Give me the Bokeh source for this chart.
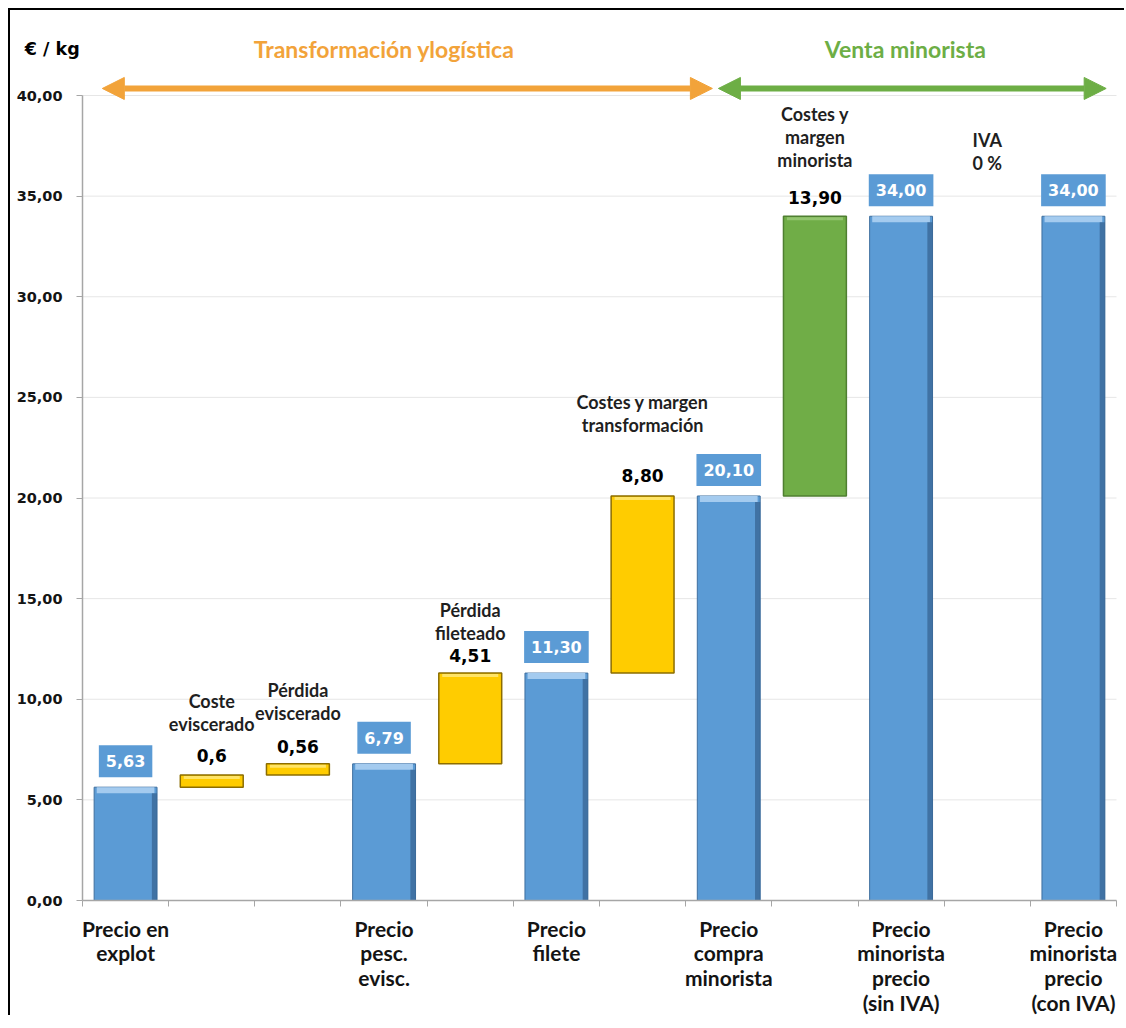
from bokeh.plotting import figure
from bokeh.models import Range1d, FixedTicker, Arrow, NormalHead
from bokeh.core.properties import value
from bokeh.embed import file_html
from bokeh.resources import INLINE

# ---------------- data ----------------
slot_labels = ["Precio en\nexplot", "", "", "Precio\npesc.\nevisc.", "", "Precio\nfilete", "",
               "Precio\ncompra\nminorista", "", "Precio\nminorista\nprecio\n(sin IVA)", "",
               "Precio\nminorista\nprecio\n(con IVA)"]
slot_kind = ["total", "step", "step", "total", "step", "total", "step", "total", "step", "total", "step", "total"]

total_values = [5.63, 6.79, 11.30, 20.10, 34.00, 34.00]
total_labels = ["5,63", "6,79", "11,30", "20,10", "34,00", "34,00"]

step_names = ["Coste\neviscerado", "Pérdida\neviscerado", "Pérdida\nfileteado",
              "Costes y margen\ntransformación", "Costes y\nmargen\nminorista", "IVA\n0 %"]
step_values = [0.60, 0.56, 4.51, 8.80, 13.90, 0.00]
step_labels = ["0,6", "0,56", "4,51", "8,80", "13,90", ""]
step_group = ["t", "t", "t", "t", "v", "v"]

y_ticks = [0, 5, 10, 15, 20, 25, 30, 35, 40]
y_tick_labels = ["0,00", "5,00", "10,00", "15,00", "20,00", "25,00", "30,00", "35,00", "40,00"]

title_left = "Transformación ylogística"
title_right = "Venta minorista"
unit_label = "€ / kg"

# ---------------- style ----------------
BLUE = "#5B9BD5"
BLUE_HI = "#A4CBEF"
BLUE_LINE = "#3F6F9F"
YELLOW = "#FFCC00"
YELLOW_HI = "#FFEA80"
YELLOW_LINE = "#8C6D00"
GREEN = "#70AD47"
GREEN_HI = "#9CCB7A"
GREEN_LINE = "#4F7F31"
ORANGE = "#F2A33A"
GREEN_T = "#6DAE45"
PX = 20.125           # pixels per unit on y
UX = 86.1667          # pixels per slot on x
HALF = 0.365          # half bar width
LEFT_PX, RIGHT_PX, TOP_PX, BOTTOM_PX = 72, 8, 890, 115
cat_offsets = [-40, -40, -29, -60, -45, -42]   # px, category text above bar top
val_offsets = [-20, -17, -18, -20, -19, -19]   # px, value text above bar top

# ---------------- geometry from data ----------------
xs = list(range(len(slot_labels)))
tot_x, tot_top = [], []
stp_x, stp_bot, stp_top = [], [], []
level = 0.0
ti = si = 0
for i, k in enumerate(slot_kind):
    if k == "total":
        level = total_values[ti]
        tot_x.append(i)
        tot_top.append(level)
        ti += 1
    else:
        stp_x.append(i)
        stp_bot.append(level)
        level = level + step_values[si]
        stp_top.append(level)
        si += 1

x0 = xs[0] - 0.5
x1 = xs[-1] + 0.5
fw = int(round((x1 - x0) * UX)) + LEFT_PX + RIGHT_PX
fh = TOP_PX + BOTTOM_PX
p = figure(frame_width=fw, frame_height=fh,
           x_range=Range1d(x0 - LEFT_PX / UX, x1 + RIGHT_PX / UX),
           y_range=Range1d(-BOTTOM_PX / PX, TOP_PX / PX),
           output_backend="svg", toolbar_location=None,
           min_border_left=0, min_border_right=0, min_border_top=0, min_border_bottom=0)
p.outline_line_color = None
p.background_fill_color = "white"
p.border_fill_color = "white"
p.margin = (8, 0, 0, 8)
p.styles = {"border-left": "2px solid #000000", "border-top": "2px solid #000000"}

# axes (placed at fixed data locations inside the frame)
p.yaxis.fixed_location = x0
p.yaxis.ticker = FixedTicker(ticks=y_ticks)
p.yaxis.major_label_overrides = {t: l for t, l in zip(y_ticks, y_tick_labels)}
p.yaxis.bounds = (0, 40)
p.yaxis.axis_line_color = "#A6A6A6"
p.yaxis.axis_line_width = 1.5
p.yaxis.major_tick_line_color = "#A6A6A6"
p.yaxis.major_tick_out = 6
p.yaxis.major_tick_in = 0
p.yaxis.minor_tick_line_color = None
p.yaxis.major_label_standoff = 14
p.yaxis.major_label_text_font = "DejaVu Sans"
p.yaxis.major_label_text_font_style = "bold"
p.yaxis.major_label_text_font_size = "14.5px"
p.yaxis.major_label_text_color = "#141414"

bounds_x = [x - 0.5 for x in xs] + [xs[-1] + 0.5]
p.xaxis.fixed_location = 0
p.xaxis.bounds = (x0, x1)
p.xaxis.ticker = FixedTicker(ticks=xs, minor_ticks=bounds_x)
p.xaxis.major_label_overrides = {x: l for x, l in zip(xs, slot_labels)}
p.xaxis.axis_line_color = "#A6A6A6"
p.xaxis.axis_line_width = 1.5
p.xaxis.major_tick_line_color = None
p.xaxis.major_tick_out = 0
p.xaxis.major_tick_in = 0
p.xaxis.minor_tick_line_color = "#A6A6A6"
p.xaxis.minor_tick_out = 6
p.xaxis.minor_tick_in = 0
p.xaxis.major_label_standoff = 9
p.xaxis.major_label_text_font = "Lato"
p.xaxis.major_label_text_font_style = "bold"
p.xaxis.major_label_text_font_size = "21px"
p.xaxis.major_label_text_line_height = 0.99
p.xaxis.major_label_text_color = "#141414"

p.xgrid.grid_line_color = None
p.ygrid.grid_line_color = None
p.segment(x0=[x0] * (len(y_ticks) - 1), x1=[x1] * (len(y_ticks) - 1),
          y0=y_ticks[1:], y1=y_ticks[1:], line_color="#E6E6E6", line_width=1, level="underlay")

# total bars (blue)
p.quad(left=[x - HALF for x in tot_x], right=[x + HALF for x in tot_x],
       bottom=0, top=tot_top, fill_color=BLUE, line_color=BLUE_LINE, line_width=1)
p.quad(left=[x - HALF + 0.03 for x in tot_x], right=[x + HALF - 0.03 for x in tot_x],
       bottom=[t - 6 / PX for t in tot_top], top=tot_top, fill_color=BLUE_HI, line_color=None)
p.quad(left=[x + HALF - 0.06 for x in tot_x], right=[x + HALF for x in tot_x],
       bottom=0, top=[t - 6 / PX for t in tot_top], fill_color="#34618E", fill_alpha=0.7, line_color=None)

# step bars
cols = [YELLOW if g == "t" else GREEN for g in step_group]
his = [YELLOW_HI if g == "t" else GREEN_HI for g in step_group]
lines = [YELLOW_LINE if g == "t" else GREEN_LINE for g in step_group]
vis = [v > 0 for v in step_values]
sx = [x for x, v in zip(stp_x, vis) if v]
sb = [b for b, v in zip(stp_bot, vis) if v]
st = [t for t, v in zip(stp_top, vis) if v]
sc = [c for c, v in zip(cols, vis) if v]
sh = [c for c, v in zip(his, vis) if v]
sl = [c for c, v in zip(lines, vis) if v]
p.quad(left=[x - HALF for x in sx], right=[x + HALF for x in sx], bottom=sb, top=st,
       fill_color=sc, line_color=sl, line_width=1.5)
p.quad(left=[x - HALF + 0.04 for x in sx], right=[x + HALF - 0.04 for x in sx],
       bottom=[max(b, t - 4 / PX) for b, t in zip(sb, st)], top=[t - 1 / PX for t in st],
       fill_color=sh, line_color=None, fill_alpha=0.8)

# value boxes on totals
p.text(x=tot_x, y=tot_top, text=total_labels, text_align="center", text_baseline="middle",
       y_offset=-26, text_color="white", text_font=value("DejaVu Sans"), text_font_style="bold",
       text_font_size="16px", background_fill_color=BLUE, padding=(7, 10))

# step values and names
p.text(x=stp_x, y=stp_top, text=step_labels, text_align="center", text_baseline="middle",
       y_offset=val_offsets, text_color="#000000", text_font=value("DejaVu Sans"),
       text_font_style="bold", text_font_size="17px")
p.text(x=stp_x, y=stp_top, text=step_names, text_align="center", text_baseline="bottom",
       y_offset=cat_offsets, text_color="#1F1F1F", text_font=value("Lato"),
       text_font_style="bold", text_font_size="18px", text_line_height=1.04)

# header
top_y = 40.35
p.add_layout(Arrow(x_start=-0.27, y_start=top_y, x_end=6.81, y_end=top_y,
                   start=NormalHead(size=22, fill_color=ORANGE, line_color=ORANGE),
                   end=NormalHead(size=22, fill_color=ORANGE, line_color=ORANGE),
                   line_color=ORANGE, line_width=6))
p.add_layout(Arrow(x_start=6.88, y_start=top_y, x_end=11.38, y_end=top_y,
                   start=NormalHead(size=22, fill_color=GREEN_T, line_color=GREEN_T),
                   end=NormalHead(size=22, fill_color=GREEN_T, line_color=GREEN_T),
                   line_color=GREEN_T, line_width=6))
p.text(x=[3.0, 9.05], y=[42.33, 42.33], text=[title_left, title_right], text_align="center",
       text_baseline="middle", text_font=value("Lato"), text_font_style="bold",
       text_font_size="23px", text_color=[ORANGE, GREEN_T])
p.text(x=[-1.17], y=[42.33], text=[unit_label], text_align="left", text_baseline="middle",
       text_font=value("DejaVu Sans"), text_font_style="bold", text_font_size="17.5px",
       text_color="#000000")

open("out.html", "w").write(file_html(p, INLINE))
